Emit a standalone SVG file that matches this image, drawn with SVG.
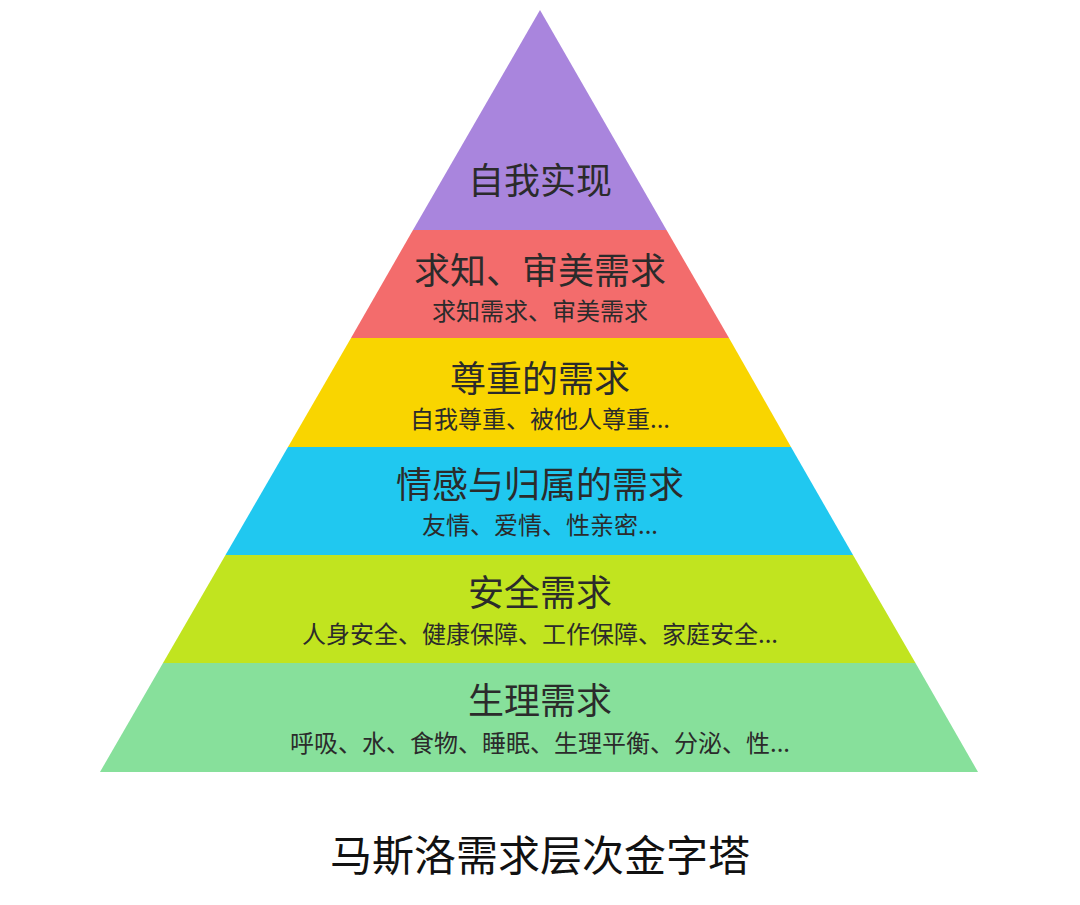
<svg xmlns="http://www.w3.org/2000/svg" width="1080" height="905" viewBox="0 0 1080 905">
<style>
text{font-family:"Noto Sans CJK SC","Noto Sans",sans-serif;fill:#2b2b2b;text-anchor:middle}
.m{font-size:36px}
.s{font-size:24px}
.t{font-size:42px;fill:#111}
</style>
<rect width="1080" height="905" fill="#fff"/>
<g id="n1"><polygon points="540,10 666.5,230 413,230" fill="#a985dd"/><text class="m" x="540" y="194">自我实现</text></g>
<g id="n2"><polygon points="413,230 666.5,230 729,338 351,338" fill="#f36c6c"/><text class="m" x="540" y="284">求知、审美需求</text><text class="s" x="540" y="320">求知需求、审美需求</text></g>
<g id="n3"><polygon points="351,338 729,338 791,447 288,447" fill="#f9d500"/><text class="m" x="540" y="392">尊重的需求</text><text class="s" x="540" y="428">自我尊重、被他人尊重...</text></g>
<g id="n4"><polygon points="288,447 791,447 853,555 225.5,555" fill="#20c8f0"/><text class="m" x="540" y="498">情感与归属的需求</text><text class="s" x="540" y="534">友情、爱情、性亲密...</text></g>
<g id="n5"><polygon points="225.5,555 853,555 915.5,663 163,663" fill="#c1e41f"/><text class="m" x="540" y="606">安全需求</text><text class="s" x="540" y="643">人身安全、健康保障、工作保障、家庭安全...</text></g>
<g id="n6"><polygon points="163,663 915.5,663 978,772 100,772" fill="#87e09b"/><text class="m" x="540" y="714">生理需求</text><text class="s" x="540" y="752">呼吸、水、食物、睡眠、生理平衡、分泌、性...</text></g>
<g id="connectors"></g>
<text class="t" x="540" y="871">马斯洛需求层次金字塔</text>
</svg>
